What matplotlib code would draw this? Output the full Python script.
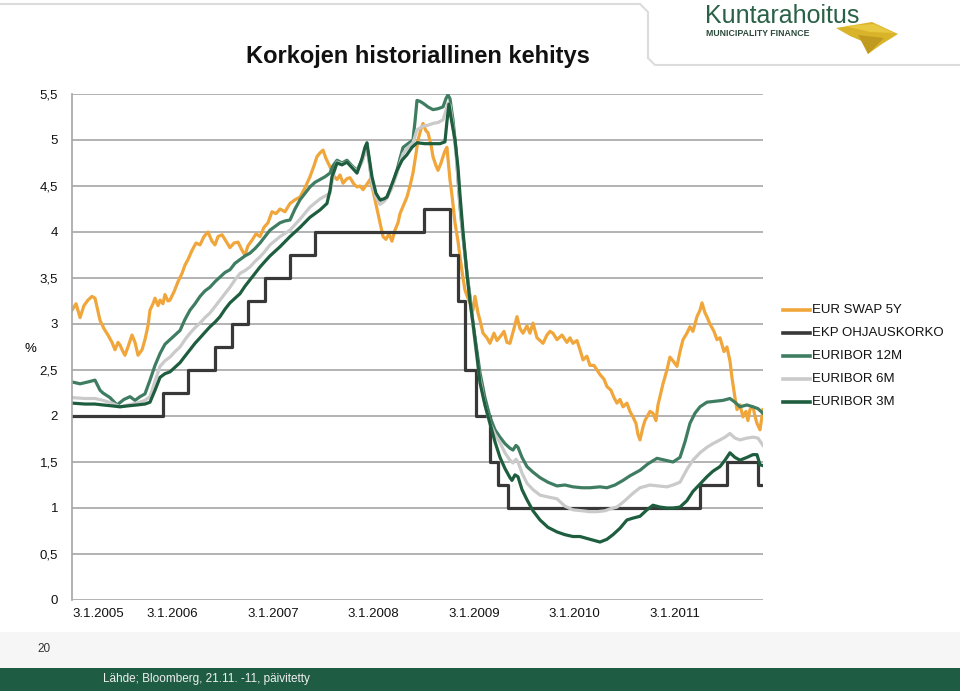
import numpy as np
import matplotlib
matplotlib.use("Agg")
import matplotlib.pyplot as plt
from matplotlib.lines import Line2D
from matplotlib.patches import Rectangle, Polygon

plt.rcParams['font.family'] = ['Liberation Sans', 'DejaVu Sans']

# ---------------- data (t = years since 3.1.2005) ----------------
tick_labels = ["3.1.2005", "3.1.2006", "3.1.2007", "3.1.2008", "3.1.2009", "3.1.2010", "3.1.2011"]
t_end = 6.876

swap_t = [0, 0.040, 0.080, 0.119, 0.159, 0.199, 0.229, 0.279, 0.318, 0.358, 0.398, 0.428, 0.458, 0.478,
          0.507, 0.527, 0.557, 0.597, 0.627, 0.657, 0.697, 0.726, 0.756, 0.776, 0.806, 0.826, 0.856, 0.876,
          0.905, 0.925, 0.955, 0.975, 1.015, 1.055, 1.095, 1.124, 1.154, 1.194, 1.234, 1.274, 1.313, 1.353,
          1.393, 1.423, 1.453, 1.493, 1.532, 1.572, 1.612, 1.652, 1.692, 1.721, 1.751, 1.791, 1.831, 1.871,
          1.910, 1.950, 1.990, 2.030, 2.070, 2.119, 2.169, 2.219, 2.269, 2.318, 2.368, 2.408, 2.438, 2.468,
          2.498, 2.527, 2.567, 2.597, 2.637, 2.667, 2.697, 2.736, 2.766, 2.806, 2.836, 2.866, 2.896, 2.935,
          2.965, 2.995, 3.015, 3.045, 3.065, 3.095, 3.124, 3.154, 3.184, 3.214, 3.244, 3.264, 3.303, 3.333,
          3.363, 3.393, 3.423, 3.443, 3.473, 3.493, 3.522, 3.542, 3.572, 3.592, 3.622, 3.642, 3.672, 3.692,
          3.711, 3.731, 3.761, 3.781, 3.811, 3.841, 3.861, 3.891, 3.910, 3.940, 3.960, 3.990, 4.010, 4.040,
          4.060, 4.090, 4.129, 4.159, 4.199, 4.229, 4.259, 4.299, 4.328, 4.358, 4.398, 4.428, 4.458, 4.488,
          4.527, 4.557, 4.587, 4.627, 4.657, 4.687, 4.726, 4.756, 4.786, 4.826, 4.876, 4.925, 4.955, 4.985,
          5.025, 5.055, 5.085, 5.124, 5.154, 5.194, 5.224, 5.254, 5.294, 5.323, 5.363, 5.393, 5.423, 5.453,
          5.483, 5.522, 5.552, 5.582, 5.612, 5.632, 5.652, 5.682, 5.701, 5.721, 5.751, 5.781, 5.811, 5.831,
          5.851, 5.881, 5.920, 5.950, 5.980, 6.020, 6.050, 6.080, 6.119, 6.149, 6.179, 6.219, 6.249, 6.269,
          6.299, 6.318, 6.348, 6.388, 6.418, 6.448, 6.488, 6.517, 6.547, 6.567, 6.597, 6.617, 6.647, 6.677,
          6.706, 6.726, 6.746, 6.776, 6.796, 6.816, 6.846, 6.876]
swap_v = [3.15, 3.22, 3.07, 3.20, 3.26, 3.30, 3.28, 3.04, 2.95, 2.88, 2.80, 2.72, 2.80, 2.77,
          2.70, 2.66, 2.75, 2.88, 2.80, 2.66, 2.72, 2.83, 2.98, 3.15, 3.22, 3.28, 3.20, 3.26,
          3.22, 3.32, 3.25, 3.26, 3.35, 3.46, 3.55, 3.64, 3.70, 3.80, 3.88, 3.86, 3.95, 4.00,
          3.90, 3.86, 3.95, 3.97, 3.90, 3.83, 3.88, 3.89, 3.80, 3.75, 3.85, 3.91, 3.98, 3.95,
          4.05, 4.10, 4.22, 4.20, 4.25, 4.22, 4.31, 4.35, 4.38, 4.48, 4.60, 4.72, 4.82, 4.86,
          4.89, 4.80, 4.71, 4.62, 4.57, 4.62, 4.53, 4.58, 4.59, 4.52, 4.49, 4.50, 4.46, 4.52,
          4.57, 4.45, 4.35, 4.20, 4.10, 3.95, 3.92, 3.98, 3.90, 4.02, 4.10, 4.20, 4.30, 4.38,
          4.50, 4.64, 4.85, 5.00, 5.12, 5.18, 5.10, 5.08, 4.95, 4.82, 4.72, 4.67, 4.75, 4.82,
          4.88, 4.92, 4.57, 4.40, 4.10, 3.90, 3.73, 3.50, 3.37, 3.28, 3.23, 3.15, 3.30, 3.12,
          3.04, 2.90, 2.85, 2.79, 2.90, 2.82, 2.86, 2.92, 2.80, 2.79, 2.95, 3.08, 2.95, 2.90,
          2.98, 2.90, 3.01, 2.85, 2.82, 2.79, 2.88, 2.92, 2.90, 2.83, 2.88, 2.80, 2.85, 2.79,
          2.82, 2.72, 2.61, 2.65, 2.55, 2.55, 2.50, 2.45, 2.40, 2.32, 2.28, 2.20, 2.14, 2.18,
          2.10, 2.14, 2.05, 1.99, 1.92, 1.80, 1.74, 1.88, 1.95, 1.99, 2.05, 2.03, 1.95, 2.12,
          2.21, 2.35, 2.50, 2.64, 2.60, 2.54, 2.70, 2.83, 2.90, 2.97, 2.92, 3.08, 3.15, 3.23,
          3.12, 3.08, 3.00, 2.92, 2.83, 2.85, 2.70, 2.75, 2.60, 2.42, 2.20, 2.07, 2.12, 1.99,
          2.05, 1.95, 2.07, 2.10, 2.00, 1.92, 1.85, 2.07]

ekp_t = [0, 0.905, 1.154, 1.423, 1.592, 1.751, 1.920, 2.169, 2.418, 3.502, 3.761, 3.841, 3.910,
         4.020, 4.159, 4.239, 4.338, 6.249, 6.517, 6.826, 6.876]
ekp_v = [2.00, 2.25, 2.50, 2.75, 3.00, 3.25, 3.50, 3.75, 4.00, 4.25, 3.75, 3.25, 2.50,
         2.00, 1.50, 1.25, 1.00, 1.25, 1.50, 1.25, 1.25]

e12_t = [0, 0.080, 0.159, 0.229, 0.279, 0.308, 0.378, 0.448, 0.517, 0.577, 0.627, 0.677, 0.726, 0.776,
         0.826, 0.876, 0.925, 0.975, 1.025, 1.075, 1.124, 1.174, 1.224, 1.274, 1.323, 1.373, 1.423, 1.473,
         1.522, 1.572, 1.622, 1.672, 1.721, 1.771, 1.821, 1.871, 1.920, 1.970, 2.020, 2.070, 2.119, 2.169,
         2.219, 2.269, 2.318, 2.368, 2.418, 2.468, 2.517, 2.567, 2.597, 2.637, 2.687, 2.736, 2.786, 2.836,
         2.886, 2.915, 2.935, 2.955, 2.985, 3.025, 3.065, 3.104, 3.134, 3.184, 3.234, 3.264, 3.294, 3.343,
         3.393, 3.413, 3.433, 3.463, 3.493, 3.542, 3.592, 3.642, 3.692, 3.721, 3.741, 3.761, 3.791, 3.821,
         3.861, 3.891, 3.930, 3.960, 3.990, 4.030, 4.060, 4.109, 4.159, 4.209, 4.259, 4.308, 4.358, 4.388,
         4.418, 4.438, 4.478, 4.527, 4.587, 4.657, 4.736, 4.826, 4.905, 4.985, 5.075, 5.154, 5.254, 5.323,
         5.403, 5.483, 5.552, 5.652, 5.731, 5.821, 5.900, 5.980, 6.050, 6.100, 6.149, 6.199, 6.249, 6.318,
         6.398, 6.478, 6.547, 6.597, 6.647, 6.716, 6.776, 6.826, 6.876]
e12_v = [2.37, 2.35, 2.37, 2.39, 2.28, 2.25, 2.20, 2.12, 2.18, 2.21, 2.17, 2.21, 2.24, 2.39,
         2.55, 2.68, 2.78, 2.83, 2.88, 2.93, 3.05, 3.15, 3.22, 3.30, 3.36, 3.40, 3.46, 3.51,
         3.56, 3.59, 3.66, 3.70, 3.74, 3.77, 3.82, 3.88, 3.95, 4.02, 4.06, 4.10, 4.12, 4.13,
         4.25, 4.35, 4.42, 4.49, 4.54, 4.57, 4.60, 4.64, 4.72, 4.78, 4.75, 4.78, 4.72, 4.67,
         4.78, 4.88, 4.92, 4.80, 4.53, 4.40, 4.31, 4.35, 4.38, 4.50, 4.67, 4.80, 4.92, 4.96,
         5.00, 5.20, 5.43, 5.42, 5.40, 5.36, 5.33, 5.34, 5.36, 5.45, 5.49, 5.45, 5.22, 4.90,
         4.27, 3.95, 3.55, 3.30, 3.01, 2.70, 2.47, 2.20, 1.99, 1.85, 1.77, 1.70, 1.65, 1.63,
         1.68, 1.66, 1.55, 1.45, 1.39, 1.33, 1.28, 1.24, 1.25, 1.23, 1.22, 1.22, 1.23, 1.22,
         1.25, 1.30, 1.35, 1.41, 1.48, 1.54, 1.52, 1.50, 1.55, 1.72, 1.92, 2.03, 2.10, 2.15,
         2.16, 2.17, 2.19, 2.15, 2.10, 2.12, 2.10, 2.08, 2.03]

e6_t = [0, 0.129, 0.229, 0.308, 0.398, 0.478, 0.557, 0.647, 0.726, 0.776, 0.826, 0.876, 0.925, 0.975,
        1.025, 1.075, 1.124, 1.174, 1.224, 1.274, 1.323, 1.373, 1.423, 1.473, 1.522, 1.572, 1.622, 1.672,
        1.721, 1.771, 1.821, 1.871, 1.920, 1.970, 2.070, 2.169, 2.269, 2.368, 2.468, 2.567, 2.597, 2.637,
        2.687, 2.736, 2.786, 2.836, 2.886, 2.915, 2.935, 2.955, 2.985, 3.025, 3.065, 3.104, 3.134, 3.184,
        3.234, 3.264, 3.294, 3.343, 3.393, 3.433, 3.493, 3.542, 3.592, 3.642, 3.692, 3.721, 3.741, 3.761,
        3.791, 3.821, 3.861, 3.891, 3.930, 3.960, 3.990, 4.030, 4.060, 4.109, 4.159, 4.209, 4.259, 4.308,
        4.358, 4.388, 4.418, 4.438, 4.478, 4.527, 4.587, 4.657, 4.736, 4.826, 4.905, 4.985, 5.075, 5.154,
        5.224, 5.303, 5.353, 5.423, 5.502, 5.582, 5.652, 5.751, 5.831, 5.920, 5.980, 6.050, 6.119, 6.179,
        6.249, 6.318, 6.378, 6.448, 6.498, 6.547, 6.597, 6.647, 6.716, 6.776, 6.826, 6.876]
e6_v = [2.20, 2.19, 2.19, 2.17, 2.14, 2.10, 2.12, 2.14, 2.17, 2.21, 2.38, 2.54, 2.60, 2.64,
        2.70, 2.75, 2.83, 2.90, 2.96, 3.01, 3.07, 3.12, 3.19, 3.26, 3.33, 3.40, 3.48, 3.55,
        3.58, 3.62, 3.68, 3.73, 3.79, 3.86, 3.95, 4.02, 4.14, 4.27, 4.36, 4.42, 4.60, 4.76,
        4.74, 4.76, 4.71, 4.66, 4.76, 4.86, 4.90, 4.78, 4.52, 4.38, 4.30, 4.33, 4.37, 4.48,
        4.64, 4.75, 4.85, 4.92, 4.97, 5.11, 5.15, 5.16, 5.18, 5.19, 5.22, 5.32, 5.40, 5.38,
        5.15, 4.85, 4.30, 3.95, 3.55, 3.28, 2.98, 2.62, 2.40, 2.12, 1.92, 1.80, 1.71, 1.60,
        1.52, 1.49, 1.53, 1.50, 1.38, 1.27, 1.20, 1.14, 1.12, 1.10, 1.02, 0.98, 0.97, 0.96,
        0.96, 0.97, 0.99, 1.01, 1.08, 1.16, 1.22, 1.25, 1.24, 1.23, 1.25, 1.28, 1.42, 1.52,
        1.60, 1.66, 1.70, 1.74, 1.77, 1.81, 1.76, 1.74, 1.76, 1.77, 1.76, 1.68]

e3_t = [0, 0.129, 0.229, 0.308, 0.398, 0.478, 0.557, 0.647, 0.726, 0.776, 0.826, 0.876, 0.925, 0.975,
        1.025, 1.075, 1.124, 1.174, 1.224, 1.274, 1.323, 1.373, 1.423, 1.473, 1.522, 1.572, 1.622, 1.672,
        1.721, 1.771, 1.821, 1.871, 1.920, 1.970, 2.070, 2.169, 2.269, 2.368, 2.468, 2.537, 2.567, 2.587,
        2.637, 2.687, 2.736, 2.786, 2.836, 2.886, 2.915, 2.935, 2.955, 2.985, 3.025, 3.065, 3.104, 3.134,
        3.184, 3.234, 3.284, 3.333, 3.383, 3.433, 3.512, 3.592, 3.662, 3.711, 3.731, 3.751, 3.771, 3.811,
        3.841, 3.861, 3.891, 3.930, 3.960, 3.990, 4.030, 4.060, 4.109, 4.159, 4.209, 4.259, 4.308, 4.358,
        4.378, 4.408, 4.438, 4.478, 4.527, 4.587, 4.657, 4.736, 4.826, 4.905, 4.985, 5.055, 5.154, 5.254,
        5.323, 5.383, 5.453, 5.522, 5.582, 5.652, 5.721, 5.781, 5.851, 5.920, 5.980, 6.050, 6.119, 6.179,
        6.249, 6.318, 6.378, 6.448, 6.498, 6.547, 6.597, 6.647, 6.716, 6.776, 6.816, 6.846, 6.876]
e3_v = [2.14, 2.13, 2.13, 2.12, 2.11, 2.10, 2.11, 2.12, 2.13, 2.15, 2.28, 2.42, 2.46, 2.48,
        2.53, 2.58, 2.65, 2.72, 2.79, 2.85, 2.91, 2.97, 3.02, 3.08, 3.16, 3.23, 3.28, 3.33,
        3.41, 3.48, 3.55, 3.62, 3.68, 3.74, 3.84, 3.95, 4.05, 4.16, 4.24, 4.31, 4.45, 4.60,
        4.75, 4.73, 4.76, 4.70, 4.64, 4.80, 4.92, 4.97, 4.82, 4.60, 4.42, 4.35, 4.36, 4.38,
        4.52, 4.67, 4.78, 4.84, 4.92, 4.97, 4.96, 4.96, 4.96, 4.98, 5.20, 5.39, 5.25, 5.00,
        4.70, 4.40, 4.00, 3.55, 3.25, 3.01, 2.65, 2.36, 2.12, 1.92, 1.72, 1.55, 1.43, 1.33,
        1.30, 1.36, 1.34, 1.20, 1.09, 0.97, 0.87, 0.79, 0.74, 0.71, 0.69, 0.69, 0.66, 0.63,
        0.66, 0.71, 0.78, 0.87, 0.89, 0.91, 0.98, 1.03, 1.01, 1.00, 1.00, 1.01, 1.08, 1.18,
        1.26, 1.34, 1.40, 1.45, 1.52, 1.60, 1.55, 1.52, 1.55, 1.58, 1.58, 1.47, 1.46]

series_names = ["EUR SWAP 5Y", "EKP OHJAUSKORKO", "EURIBOR 12M", "EURIBOR 6M", "EURIBOR 3M"]
colors = ["#F0A63A", "#383838", "#3F7D62", "#CACACA", "#1E5E3F"]

# ---------------- figure ----------------
W, H = 960, 691
fig = plt.figure(figsize=(W / 100, H / 100), dpi=100)

def fx(px):
    return px / W

def fy(py):
    return 1 - py / H

# header decorations
fig.add_artist(Line2D([fx(0), fx(640)], [fy(4), fy(4)], color="#dcdcdc", lw=1.5))
fig.add_artist(Line2D([fx(640), fx(648), fx(648)], [fy(4), fy(12), fy(58)], color="#dcdcdc", lw=1.5))
fig.add_artist(Line2D([fx(648), fx(655), fx(960)], [fy(58), fy(65), fy(65)], color="#dcdcdc", lw=1.5))

# logo
fig.text(fx(705), fy(23), "Kuntarahoitus", color="#2B6147", fontsize=18, ha="left", va="baseline")
fig.text(fx(706), fy(34), "MUNICIPALITY FINANCE", color="#2B4A3A", fontsize=6.3, weight="bold",
         ha="left", va="center")
gold = ["#D9B42A", "#E8C840", "#BF9A1E"]
fig.add_artist(Polygon([[fx(836), fy(28)], [fx(872), fy(22)], [fx(898), fy(34)], [fx(882), fy(44)],
                        [fx(868), fy(54)], [fx(864), fy(42)], [fx(850), fy(36)]],
                       closed=True, transform=fig.transFigure, facecolor=gold[0], edgecolor="none"))
fig.add_artist(Polygon([[fx(845), fy(26)], [fx(874), fy(24)], [fx(894), fy(33)], [fx(870), fy(32)]],
                       closed=True, transform=fig.transFigure, facecolor=gold[1], edgecolor="none"))
fig.add_artist(Polygon([[fx(858), fy(35)], [fx(884), fy(38)], [fx(868), fy(54)]],
                       closed=True, transform=fig.transFigure, facecolor=gold[2], edgecolor="none"))

# title
fig.text(fx(418), fy(57), "Korkojen historiallinen kehitys", fontsize=17, weight="bold",
         ha="center", va="center", color="#111111")

# axes
ax = fig.add_axes([fx(72), fy(600), (763 - 72) / W, (600 - 94) / H])
ax.set_xlim(0, t_end)
ax.set_ylim(0, 5.5)
yt = np.arange(0, 5.51, 0.5)
ax.set_yticks(yt)
ax.set_yticklabels([("%g" % v).replace(".", ",") for v in yt])
ax.set_xticks(np.arange(len(tick_labels)))
ax.set_xticklabels(tick_labels)
for sp in ["top", "right", "bottom"]:
    ax.spines[sp].set_visible(False)
ax.spines["left"].set_color("#a6a6a6")
ax.spines["left"].set_linewidth(1.2)
ax.yaxis.grid(True, color="#a6a6a6", lw=1.2)
ax.set_axisbelow(True)
ax.tick_params(axis="both", length=0, labelsize=9.5, colors="#111111")
ax.tick_params(axis="y", pad=10)
ax.tick_params(axis="x", pad=6)
ax.get_xticklabels()[0].set_horizontalalignment("left")

lw = 2.3
ax.plot(swap_t, swap_v, color=colors[0], lw=lw, solid_joinstyle="round")
ax.plot(ekp_t, ekp_v, color=colors[1], lw=lw, drawstyle="steps-post")
ax.plot(e12_t, e12_v, color=colors[2], lw=lw, solid_joinstyle="round")
ax.plot(e6_t, e6_v, color=colors[3], lw=lw, solid_joinstyle="round")
ax.plot(e3_t, e3_v, color=colors[4], lw=lw, solid_joinstyle="round")

# % label
fig.text(fx(30), fy(349), "%", fontsize=9.5, ha="center", va="center")

# legend (manual)
leg_y = [310, 333, 356, 379, 402]
for name, c, y in zip(series_names, colors, leg_y):
    fig.add_artist(Line2D([fx(783), fx(810)], [fy(y), fy(y)], color=c, lw=2.6))
    fig.text(fx(812), fy(y), name, fontsize=9.5, ha="left", va="center", color="#111111")

# footer
fig.add_artist(Rectangle((0, fy(668)), 1, (668 - 632) / H, transform=fig.transFigure,
                         facecolor="#f6f6f6", edgecolor="none"))
fig.add_artist(Rectangle((0, 0), 1, (691 - 668) / H, transform=fig.transFigure,
                         facecolor="#1F5C44", edgecolor="none"))
fig.text(fx(37), fy(649), "20", fontsize=8.5, ha="left", va="center", color="#333333")
fig.text(fx(103), fy(679), "Lähde; Bloomberg, 21.11. -11, päivitetty", fontsize=8.5,
         ha="left", va="center", color="#f0f0f0")

fig.savefig("out.png", dpi=100)
